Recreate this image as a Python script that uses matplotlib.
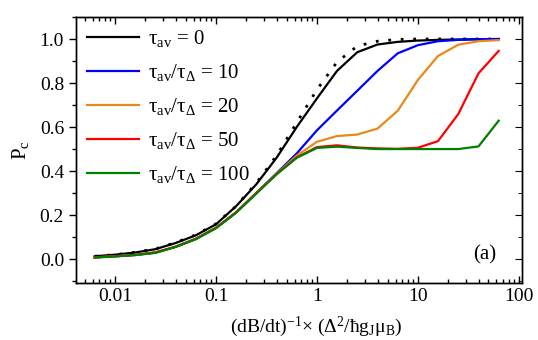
import numpy as np
import matplotlib
matplotlib.use('Agg')
import matplotlib.pyplot as plt
from matplotlib.ticker import LogLocator, MultipleLocator, FixedFormatter, FixedLocator

plt.rcParams['font.family'] = 'serif'
plt.rcParams['font.serif'] = ['Liberation Serif', 'DejaVu Serif']
plt.rcParams['mathtext.fontset'] = 'custom'
plt.rcParams['mathtext.rm'] = 'Liberation Serif'
plt.rcParams['mathtext.it'] = 'Liberation Serif:italic'
plt.rcParams['mathtext.bf'] = 'Liberation Serif:bold'

# sweep-rate parameter (log grid, 5 points per decade)
x = [0.0063, 0.01, 0.0158, 0.0251, 0.0398, 0.0631, 0.1, 0.158, 0.251, 0.398,
     0.631, 1.0, 1.58, 2.51, 3.98, 6.31, 10.0, 15.8, 25.1, 39.8, 63.1]

p_lz = [0.013, 0.02, 0.031, 0.046, 0.075, 0.11, 0.16, 0.24, 0.345, 0.47,
        0.62, 0.77, 0.895, 0.968, 0.99, 0.998, 1.0, 1.0, 1.0, 1.0, 1.0]
p_0 = [0.013, 0.02, 0.03, 0.045, 0.073, 0.108, 0.158, 0.24, 0.34, 0.46,
       0.60, 0.73, 0.855, 0.94, 0.975, 0.987, 0.993, 0.996, 0.998, 0.999, 1.0]
p_10 = [0.008, 0.013, 0.019, 0.03, 0.056, 0.092, 0.142, 0.212, 0.30, 0.39,
        0.48, 0.585, 0.675, 0.765, 0.855, 0.935, 0.972, 0.99, 0.996, 0.999, 1.0]
p_20 = [0.008, 0.013, 0.019, 0.03, 0.056, 0.092, 0.142, 0.212, 0.30, 0.388,
        0.47, 0.533, 0.559, 0.566, 0.593, 0.674, 0.814, 0.923, 0.974, 0.99, 0.995]
p_50 = [0.008, 0.013, 0.019, 0.03, 0.056, 0.092, 0.142, 0.212, 0.30, 0.386,
        0.462, 0.509, 0.517, 0.507, 0.503, 0.501, 0.506, 0.536, 0.659, 0.844, 0.946]
p_100 = [0.007, 0.012, 0.018, 0.028, 0.055, 0.09, 0.14, 0.21, 0.298, 0.385,
         0.46, 0.505, 0.511, 0.505, 0.5, 0.5, 0.5, 0.5, 0.5, 0.512, 0.629]

labels = ['τ' + r'$_{\mathrm{av}}$' + ' = 0',
          'τ' + r'$_{\mathrm{av}}$' + '/τ' + r'$_{\Delta}$' + ' = 10',
          'τ' + r'$_{\mathrm{av}}$' + '/τ' + r'$_{\Delta}$' + ' = 20',
          'τ' + r'$_{\mathrm{av}}$' + '/τ' + r'$_{\Delta}$' + ' = 50',
          'τ' + r'$_{\mathrm{av}}$' + '/τ' + r'$_{\Delta}$' + ' = 100']
colors = ['black', '#0000ff', '#e8891a', '#ff0000', '#008000']

fig = plt.figure(figsize=(5.38, 3.4), dpi=100)
ax = fig.add_axes([0.141, 0.168, 0.829, 0.782])

ax.plot(x, p_lz, color='black', linestyle=(0, (1, 3.5)), linewidth=2.0)
for p, c, lab in zip([p_0, p_10, p_20, p_50, p_100], colors, labels):
    ax.plot(x, p, color=c, linewidth=1.6, label=lab)

ax.set_xscale('log')
ax.set_xlim(0.0041, 107)
ax.set_ylim(-0.108, 1.1)

ax.xaxis.set_major_locator(FixedLocator([0.01, 0.1, 1, 10, 100]))
ax.xaxis.set_major_formatter(FixedFormatter(['0.01', '0.1', '1', '10', '100']))
ax.xaxis.set_minor_locator(LogLocator(base=10, subs=np.arange(2, 10)))
ax.yaxis.set_major_locator(MultipleLocator(0.2))
ax.yaxis.set_minor_locator(MultipleLocator(0.1))
ax.yaxis.set_major_formatter(plt.FormatStrFormatter('%.1f'))

ax.tick_params(axis='x', which='both', direction='in', top=True, labelsize=14)
ax.tick_params(axis='y', which='both', direction='out', labelsize=14)
ax.tick_params(which='major', length=5, width=1)
ax.tick_params(which='minor', length=3, width=1)
# inward ticks on the right spine
ax2 = ax.twinx()
ax2.set_ylim(ax.get_ylim())
ax2.yaxis.set_major_locator(MultipleLocator(0.2))
ax2.yaxis.set_minor_locator(MultipleLocator(0.1))
ax2.tick_params(axis='y', which='both', direction='in', labelright=False)
ax2.tick_params(which='major', length=5)
ax2.tick_params(which='minor', length=3)

for a in (ax, ax2):
    for s in a.spines.values():
        s.set_linewidth(1.0)

ax.set_xlabel('(dB/dt)' + r'$^{-1}$' + '× (Δ' + r'$^{2}$' + '/ħg' + r'$_{\mathrm{J}}$' + 'μ' + r'$_{\mathrm{B}}$' + ')',
              fontsize=14)
ax.xaxis.set_label_coords(0.54, -0.12)
ax.set_ylabel('P' + r'$_{\mathrm{c}}$', fontsize=15, labelpad=6)

ax.text(0.917, 0.105, '(a)', transform=ax.transAxes, fontsize=15, ha='center', va='center')

ax.legend(loc='upper left', frameon=False, fontsize=15, handlelength=2.5,
          handletextpad=0.4, labelspacing=0.62, borderaxespad=0.15,
          bbox_to_anchor=(0.0, 1.0))

fig.savefig('out.png', dpi=100)
